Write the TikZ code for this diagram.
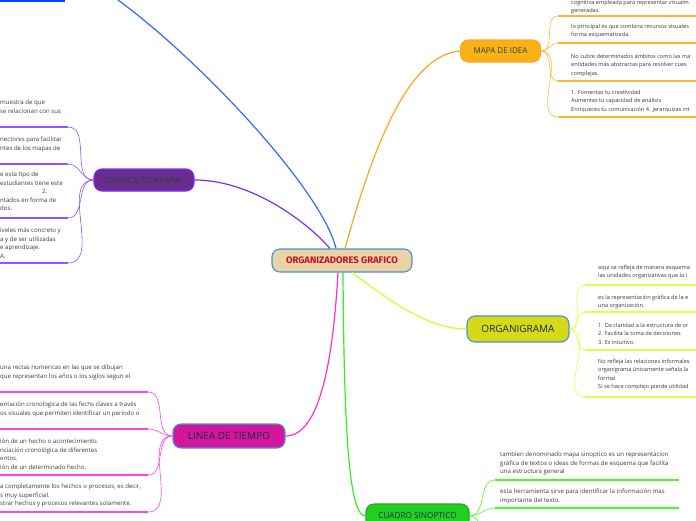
\documentclass[tikz,border=0pt]{standalone}
\usepackage{fontspec}
\setmainfont{Open Sans}
\newfontfamily\rootfont{Fira Sans}
\usetikzlibrary{positioning,calc}
\definecolor{ink}{HTML}{3A3A3A}
\definecolor{navy}{HTML}{1B2A4A}
\definecolor{leaf}{HTML}{1E4A32}
\definecolor{tan}{HTML}{E8D4A6}
\definecolor{crim}{HTML}{C8102E}
\definecolor{edge}{HTML}{4A90D9}
\definecolor{orng}{HTML}{FFA51F}
\definecolor{orngbox}{HTML}{F9B115}
\definecolor{orngln}{HTML}{FFB733}
\definecolor{purp}{HTML}{7A2EF0}
\definecolor{purpbox}{HTML}{6A2C90}
\definecolor{purpln}{HTML}{9055FF}
\definecolor{blu}{HTML}{2F6BFF}
\definecolor{bluln}{HTML}{0044FF}
\definecolor{lime}{HTML}{CCFF22}
\definecolor{limebox}{HTML}{D6DA16}
\definecolor{limeln}{HTML}{E0FF40}
\definecolor{mag}{HTML}{FF2FD0}
\definecolor{magbox}{HTML}{D3169B}
\definecolor{magln}{HTML}{FF44EE}
\definecolor{grn}{HTML}{33EE22}
\definecolor{grnbox}{HTML}{22D022}
\definecolor{grnln}{HTML}{44FF22}

\begin{document}
\begin{tikzpicture}[x=1pt,y=-1pt,every node/.style={inner sep=0pt},
  topic/.style={rounded corners=8pt,line width=1.1pt},
  leaftxt/.style={anchor=north west,align=left,font=\fontsize{6.1}{8.5}\selectfont,text=ink},
  edgetxt/.style={leaftxt,font=\fontsize{5.6}{8.5}\selectfont},
  main/.style={line width=1.2pt},
  twig/.style={line width=0.6pt},
  rule/.style={line width=1.4pt}]
  \useasboundingbox (0,0) rectangle (696,520);
  \clip (0,0) rectangle (696,520);

  % topics
  \node[topic,draw=edge,fill=tan,minimum width=140pt,minimum height=23pt,font=\rootfont\bfseries\fontsize{9.5}{11}\selectfont,text=crim] (root) at (342,260.5) {ORGANIZADORES GRAFICO};
  \node[topic,draw=orng,fill=orngbox,minimum width=80pt,minimum height=22pt,font=\fontsize{8}{9}\selectfont,text=leaf] (mapa) at (500.5,51) {MAPA DE IDEA};
  \node[topic,draw=purp,fill=purpbox,minimum width=100pt,minimum height=22pt,font=\fontsize{8.3}{9}\selectfont,text=leaf] (tela) at (144,180) {GRAFICA TELARAÑA.};
  \node[topic,draw=edge,fill=limebox,minimum width=102pt,minimum height=26pt,font=\fontsize{10}{12}\selectfont,text=navy] (orga) at (518,329) {ORGANIGRAMA};
  \node[topic,draw=edge,fill=magbox,minimum width=112pt,minimum height=24pt,font=\fontsize{10}{11}\selectfont,text=navy] (linea) at (229,436) {LINEA DE TIEMPO};
  \node[topic,draw=grn!70!black,fill=grnbox,minimum width=103pt,minimum height=24pt,font=\fontsize{8.2}{10}\selectfont,text=navy] (cuadro) at (417.5,516) {CUADRO SINOPTICO};
  \coordinate (offtop) at (118,0);

  % branches
  \draw[main,blu] ([xshift=-6pt]root.north) .. controls (322,190) and (200,60) .. (offtop);
  \draw[main,purp] ([xshift=-12pt]root.north) .. controls (305,220) and (250,180) .. (tela.east);
  \draw[main,orng] ([xshift=3pt]root.north) .. controls (375,140) and (410,55) .. (mapa.west);
  \draw[main,lime] ([xshift=10pt]root.south) .. controls (395,305) and (430,329) .. (orga.west);
  \draw[main,mag] ([xshift=-4pt]root.south) .. controls (333,360) and (320,436) .. (linea.east);
  \draw[main,grn] ([xshift=1pt]root.south) .. controls (344,420) and (348,516) .. (cuadro.west);

  % underlines and twigs
  \coordinate (bl) at (65,1);
  \draw[rule,bluln] (0,1) -- (bl);
  \foreach \n/\y in {1/16,2/43,3/81,4/117} {
    \coordinate (mi\n) at (558,\y);
    \draw[rule,orngln] (mi\n) -- (696,\y);
    \draw[twig,orngln] (mapa.east) to[out=0,in=180] (mi\n);
  }
  \foreach \n/\y in {1/127,2/164,3/218,4/263} {
    \coordinate (te\n) at (68,\y);
    \draw[rule,purpln] (0,\y) -- (te\n);
    \draw[twig,purpln] (tela.west) to[out=180,in=0] (te\n);
  }
  \foreach \n/\y in {1/285,2/312,3/350,4/397} {
    \coordinate (or\n) at (585,\y);
    \draw[rule,limeln] (or\n) -- (696,\y);
    \draw[twig,limeln] (orga.east) to[out=0,in=180] (or\n);
  }
  \foreach \n/\y in {1/392,2/429,3/475,4/512} {
    \coordinate (li\n) at (148,\y);
    \draw[rule,magln] (0,\y) -- (li\n);
    \draw[twig,magln] (linea.west) to[out=180,in=0] (li\n);
  }
  \foreach \n/\y in {1/480,2/508,3/545} {
    \coordinate (cu\n) at (495,\y);
    \draw[rule,grnln] (cu\n) -- (679,\y);
    \draw[twig,grnln] (cuadro.east) to[out=0,in=180] (cu\n);
  }

  % texts
  \node[edgetxt] (mtxa) at (571,0) {cognitiva empleada para representar visualm\\generadas.};
  \node[edgetxt] (mtxb) at (571,24) {lo principal es que combina recursos visuales\\forma esquematizada.};
  \node[edgetxt] (mtxc) at (571,54) {No cubre determinados ámbitos como las ma\\entidades más abstractas para resolver cues\\complejas.};
  \node[edgetxt] (mtxd) at (571,90) {1. Fomentas tu creatividad\\Aumentas tu capacidad de análisis\\Enriqueces tu comunicación 4. Jerarquizas int};

  \node[leaftxt] (ttxa) at (0,100) {muestra de que\\se relacionan con sus};
  \node[leaftxt] (ttxb) at (0,137) {nectores para facilitar\\ntes de los mapas de};
  \node[leaftxt] (ttxc) at (0,172) {e esta tipo de\\estudiantes tiene este\\\hspace*{42pt}2.\\ntados en forma de\\dos.};
  \node[leaftxt] (ttxd) at (0,228) {iveles más concreto y\\a y de ser utilizadas\\e aprendizaje.\\A.};

  \node[edgetxt] (otxa) at (598,265) {aqui se refleja de manera esquema\\las unidades organizativas que la i};
  \node[edgetxt] (otxb) at (598,295) {es la representación gráfica de la e\\una organización.};
  \node[edgetxt] (otxc) at (598,323) {1. Da claridad a la estructura de or\\2. Facilita la toma de decisiones\\3. Es intuitivo.};
  \node[edgetxt] (otxd) at (598,359) {No refleja las relaciones informales\\organigrama únicamente señala la\\formal\\Si se hace complejo pierde utilidad};

  \node[leaftxt] (ltxa) at (0,365) {una rectas numericas en las que se dibujan\\que representan los años o los siglos segun el};
  \node[leaftxt] (ltxb) at (0,402) {entación cronologica de las fechs claves a través\\os visuales que permiten identificar un periodo o};
  \node[leaftxt] (ltxc) at (0,439) {ión de un hecho o acontecimiento.\\nciación cronológica de diferentes\\entos.\\ión de un determinado hecho.};
  \node[leaftxt] (ltxd) at (0,484) {a completamente los hechos o procesos, es decir,\\s muy superficial.\\strar hechos y procesos relevantes solamente.};

  \node[leaftxt] (ctxa) at (500,452) {tambien denominado mapa sinoptico es un representacion\\gráfica de textos o ideas de formas de esquema que facilita\\una estructura general};
  \node[leaftxt] (ctxb) at (500,489) {esta herramienta sirve para identificar la información mas\\importante del texto.};
\end{tikzpicture}
\end{document}
